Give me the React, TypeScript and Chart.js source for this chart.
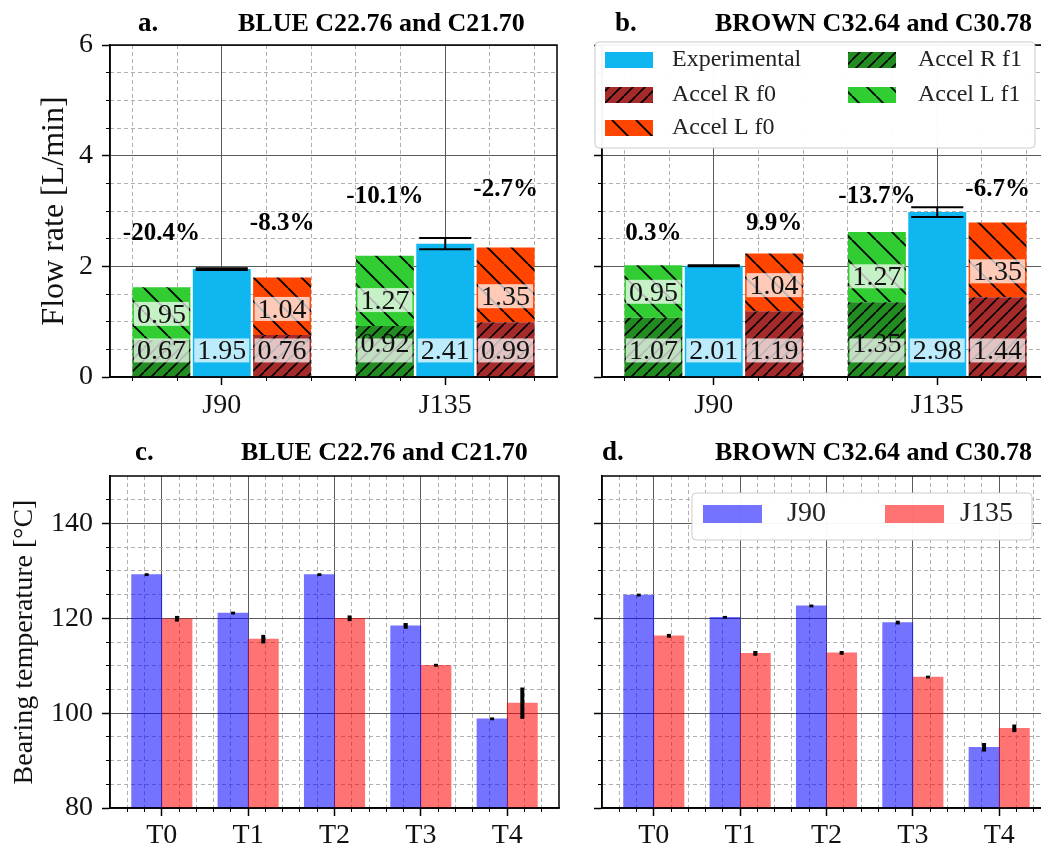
import React, { useEffect, useRef } from 'react';
import { Chart, registerables } from 'chart.js';

Chart.register(...registerables);

const SERIF = "'Liberation Serif', 'Times New Roman', 'DejaVu Serif', serif";
Chart.defaults.font.family = SERIF;
Chart.defaults.color = '#000';

// ---------------- data: flow rate (panels a, b) ----------------
const flowCategories = ['J90', 'J135'];
const flowTickValues = [0, 2, 4, 6];
const flowSeriesNames = ['Experimental', 'Accel R f0', 'Accel L f0', 'Accel R f1', 'Accel L f1'];

const blueExperimental = [1.95, 2.41];
const blueExperimentalErr = [0.015, 0.1];
const blueAccelRf0 = [0.76, 0.99];
const blueAccelLf0 = [1.04, 1.35];
const blueAccelRf1 = [0.67, 0.92];
const blueAccelLf1 = [0.95, 1.27];
const bluePercentLabels = ['-20.4%', '-8.3%', '-10.1%', '-2.7%'];

const brownExperimental = [2.01, 2.98];
const brownExperimentalErr = [0.01, 0.09];
const brownAccelRf0 = [1.19, 1.44];
const brownAccelLf0 = [1.04, 1.35];
const brownAccelRf1 = [1.07, 1.35];
const brownAccelLf1 = [0.95, 1.27];
const brownPercentLabels = ['0.3%', '9.9%', '-13.7%', '-6.7%'];

// value (L/min) at which each percentage label is centred: J90 f1, J90 f0, J135 f1, J135 f0
const percentLabelHeights = [2.6, 2.77, 3.27, 3.38];

// ---------------- data: bearing temperature (panels c, d) ----------------
const tempCategories = ['T0', 'T1', 'T2', 'T3', 'T4'];
const tempTickValues = [80, 100, 120, 140];
const tempSeriesNames = ['J90', 'J135'];

const blueJ90 = [129.2, 121.1, 129.2, 118.4, 98.8];
const blueJ90Err = [0.3, 0.3, 0.3, 0.6, 0.3];
const blueJ135 = [119.9, 115.6, 120.0, 110.1, 102.1];
const blueJ135Err = [0.6, 0.9, 0.6, 0.3, 3.3];

const brownJ90 = [124.9, 120.2, 122.6, 119.1, 92.8];
const brownJ90Err = [0.3, 0.3, 0.3, 0.4, 0.9];
const brownJ135 = [116.3, 112.6, 112.7, 107.6, 96.8];
const brownJ135Err = [0.4, 0.5, 0.4, 0.3, 0.8];

// ---------------- styles ----------------
const C_EXP = 'rgb(16,182,240)';
const C_RF0 = '#a52a2a';
const C_LF0 = '#ff4500';
const C_RF1 = '#228b22';
const C_LF1 = '#32cd32';
const C_J90 = 'rgba(0,0,255,0.55)';
const C_J135 = 'rgba(255,0,0,0.55)';
const MAJOR_GRID = '#5c5c5c';
const MINOR_GRID = '#b0b0b0';

const FLOW_OFFSET = 0.27; // bar offset from category centre (x units)
const TEMP_OFFSET = 0.175;
const LOWER_LABEL_Y = 0.48;
const UPPER_LABEL_GAP = 0.47;

const f = (size: number, weight: string = 'normal') => ({ family: SERIF, size, weight });

function hatch(color: string, dir: 'fwd' | 'back', s: number, lw: number) {
  const c = document.createElement('canvas');
  c.width = s;
  c.height = s;
  const g = c.getContext('2d')!;
  g.fillStyle = color;
  g.fillRect(0, 0, s, s);
  g.strokeStyle = '#000';
  g.lineWidth = lw;
  g.beginPath();
  for (let k = -1; k <= 1; k++) {
    if (dir === 'fwd') {
      g.moveTo(k * s, s);
      g.lineTo(s + k * s, 0);
    } else {
      g.moveTo(k * s, 0);
      g.lineTo(s + k * s, s);
    }
  }
  g.stroke();
  return g.createPattern(c, 'repeat');
}

function minorTicks(min: number, max: number, step: number, majors: number[]) {
  const out: { value: number }[] = [];
  const start = Math.ceil(min / step - 1e-9);
  for (let k = start; k * step <= max + 1e-9; k++) {
    const v = +(k * step).toFixed(6);
    if (v <= min + 1e-9 || v >= max - 1e-9) continue;
    if (majors.some((m) => Math.abs(m - v) < 1e-6)) continue;
    out.push({ value: v });
  }
  return out;
}

function boxedText(ctx: CanvasRenderingContext2D, text: string, cx: number, cy: number, font: string) {
  ctx.font = font;
  const m = ctx.measureText(text);
  const asc = m.actualBoundingBoxAscent;
  const desc = m.actualBoundingBoxDescent;
  const w = m.width;
  const h = asc + desc;
  ctx.fillStyle = 'rgba(255,255,255,0.72)';
  ctx.fillRect(cx - w / 2 - 3, cy - h / 2 - 3, w + 6, h + 6);
  ctx.fillStyle = '#111';
  ctx.textAlign = 'center';
  ctx.textBaseline = 'alphabetic';
  ctx.fillText(text, cx, cy + h / 2 - desc);
}

function drawTitle(ctx: CanvasRenderingContext2D, letter: string, letterX: number, title: string, titleX: number, baseY: number) {
  ctx.fillStyle = '#000';
  ctx.textAlign = 'left';
  ctx.textBaseline = 'alphabetic';
  ctx.font = `bold 27px ${SERIF}`;
  ctx.fillText(letter, letterX, baseY);
  ctx.font = `bold 26px ${SERIF}`;
  ctx.fillText(title, titleX, baseY);
}

function legendFrame(ctx: CanvasRenderingContext2D, x: number, y: number, w: number, h: number) {
  ctx.beginPath();
  (ctx as any).roundRect(x, y, w, h, 4);
  ctx.fillStyle = 'rgba(255,255,255,0.96)';
  ctx.fill();
  ctx.strokeStyle = '#cccccc';
  ctx.lineWidth = 1;
  ctx.stroke();
}

function scaleCommon(min: number, max: number) {
  return { type: 'linear', min, max, offset: false };
}

const majorGrid = { color: MAJOR_GRID, lineWidth: 1, tickLength: 8, tickColor: '#000', tickWidth: 1.5, offset: false };
const minorGrid = { color: MINOR_GRID, lineWidth: 1, tickLength: 4, tickColor: '#000', tickWidth: 1, offset: false };

type FlowPanel = {
  letter: string; title: string; letterX: number; titleX: number;
  exp: number[]; expErr: number[]; rf0: number[]; lf0: number[]; rf1: number[]; lf1: number[];
  pct: string[]; legend: boolean; yLabels: boolean; left: number; top: number;
};

type TempPanel = {
  letter: string; title: string; letterX: number; titleX: number;
  j90: number[]; j90Err: number[]; j135: number[]; j135Err: number[];
  legend: boolean; yLabels: boolean; left: number; top: number;
};

function buildFlowConfig(p: FlowPanel): any {
  const pats = {
    rf0: hatch(C_RF0, 'fwd', 12, 1.6),
    lf0: hatch(C_LF0, 'back', 24, 1.8),
    rf1: hatch(C_RF1, 'fwd', 12, 1.6),
    lf1: hatch(C_LF1, 'back', 24, 1.8),
  };
  const W = FLOW_OFFSET;
  const pts = (vals: number[], off: number) => vals.map((v, i) => ({ x: i + off, y: v }));
  const common = { grouped: false, barPercentage: 0.96, categoryPercentage: 1, borderWidth: 0, xAxisID: 'x', yAxisID: 'y' };
  const colorFor: Record<string, any> = {
    'Experimental': C_EXP, 'Accel R f0': pats.rf0, 'Accel L f0': pats.lf0, 'Accel R f1': pats.rf1, 'Accel L f1': pats.lf1,
  };
  const datasets = [
    { ...common, label: 'Accel R f1', data: pts(p.rf1, -W), backgroundColor: pats.rf1, stack: 'f1' },
    { ...common, label: 'Accel L f1', data: pts(p.lf1, -W), backgroundColor: pats.lf1, stack: 'f1' },
    { ...common, label: 'Experimental', data: pts(p.exp, 0), backgroundColor: C_EXP, stack: 'exp' },
    { ...common, label: 'Accel R f0', data: pts(p.rf0, W), backgroundColor: pats.rf0, stack: 'f0' },
    { ...common, label: 'Accel L f0', data: pts(p.lf0, W), backgroundColor: pats.lf0, stack: 'f0' },
  ];
  const xmin = -0.5, xmax = flowCategories.length - 0.5;
  const ymin = 0, ymax = 6;
  const decor = {
    id: 'flowDecor',
    afterDatasetsDraw(chart: any) {
      const ctx: CanvasRenderingContext2D = chart.ctx;
      const xs = chart.scales.x, ys = chart.scales.y;
      const a = chart.chartArea;
      ctx.save();
      const expMeta = chart.getDatasetMeta(2);
      p.exp.forEach((v, i) => {
        const el = expMeta.data[i];
        const cx = el.x, half = el.width * 0.45;
        const yt = ys.getPixelForValue(v + p.expErr[i]);
        const yb = ys.getPixelForValue(v - p.expErr[i]);
        ctx.strokeStyle = '#000';
        ctx.lineWidth = 2;
        ctx.beginPath();
        ctx.moveTo(cx, yt); ctx.lineTo(cx, yb);
        ctx.moveTo(cx - half, yt); ctx.lineTo(cx + half, yt);
        ctx.moveTo(cx - half, yb); ctx.lineTo(cx + half, yb);
        ctx.stroke();
      });
      const font = `28px ${SERIF}`;
      flowCategories.forEach((_, i) => {
        const xl = xs.getPixelForValue(i - W), xc = xs.getPixelForValue(i), xr = xs.getPixelForValue(i + W);
        boxedText(ctx, p.rf1[i].toFixed(2), xl, ys.getPixelForValue(LOWER_LABEL_Y), font);
        boxedText(ctx, p.lf1[i].toFixed(2), xl, ys.getPixelForValue(p.rf1[i] + UPPER_LABEL_GAP), font);
        boxedText(ctx, p.exp[i].toFixed(2), xc, ys.getPixelForValue(LOWER_LABEL_Y), font);
        boxedText(ctx, p.rf0[i].toFixed(2), xr, ys.getPixelForValue(LOWER_LABEL_Y), font);
        boxedText(ctx, p.lf0[i].toFixed(2), xr, ys.getPixelForValue(p.rf0[i] + UPPER_LABEL_GAP), font);
        ctx.font = `bold 25px ${SERIF}`;
        ctx.fillStyle = '#000';
        ctx.textAlign = 'center';
        ctx.textBaseline = 'middle';
        ctx.fillText(p.pct[2 * i], xl, ys.getPixelForValue(percentLabelHeights[2 * i]));
        ctx.fillText(p.pct[2 * i + 1], xr, ys.getPixelForValue(percentLabelHeights[2 * i + 1]));
      });
      ctx.strokeStyle = '#000';
      ctx.lineWidth = 1.5;
      ctx.strokeRect(a.left, a.top, a.right - a.left, a.bottom - a.top);
      ctx.restore();
    },
    afterDraw(chart: any) {
      const ctx: CanvasRenderingContext2D = chart.ctx;
      const a = chart.chartArea;
      ctx.save();
      drawTitle(ctx, p.letter, p.letterX, p.title, p.titleX, 31);
      if (p.legend) {
        legendFrame(ctx, a.left - 7, a.top - 3, 440, 106);
        const rows = [15, 50, 83];
        const cols = [{ sw: 3, tx: 70 }, { sw: 246, tx: 316 }];
        flowSeriesNames.forEach((name, k) => {
          const col = cols[Math.floor(k / 3)];
          const ry = a.top + rows[k % 3];
          ctx.fillStyle = colorFor[name];
          ctx.fillRect(a.left + col.sw, ry - 8, 48, 16);
          ctx.fillStyle = '#222';
          ctx.font = `24px ${SERIF}`;
          ctx.textAlign = 'left';
          ctx.textBaseline = 'middle';
          ctx.fillText(name, a.left + col.tx, ry);
        });
      }
      ctx.restore();
    },
  };
  return {
    type: 'bar',
    data: { datasets },
    plugins: [decor],
    options: {
      animation: false,
      responsive: false,
      devicePixelRatio: 1,
      layout: { padding: { top: 45, right: 23, left: 0, bottom: 0 } },
      plugins: { legend: { display: false }, tooltip: { enabled: false }, title: { display: false } },
      scales: {
        x: {
          ...scaleCommon(xmin, xmax), position: 'bottom', weight: 1,
          afterBuildTicks: (s: any) => { s.ticks = flowCategories.map((_, i) => ({ value: i })); },
          ticks: { callback: (v: any) => flowCategories[v] ?? '', font: f(28), color: '#111', padding: 4, maxRotation: 0, autoSkip: false },
          grid: majorGrid,
          border: { color: '#000', width: 1.5 },
          afterFit: (s: any) => { s.height = 48; },
        },
        xMinor: {
          ...scaleCommon(xmin, xmax), position: 'bottom', weight: 0,
          afterBuildTicks: (s: any) => { s.ticks = minorTicks(xmin, xmax, 0.2, flowCategories.map((_, i) => i)); },
          ticks: { display: false },
          grid: minorGrid,
          border: { display: false, dash: [4, 3] },
          afterFit: (s: any) => { s.height = 0; },
        },
        y: {
          ...scaleCommon(ymin, ymax), position: 'left', stacked: true, weight: 1,
          afterBuildTicks: (s: any) => { s.ticks = flowTickValues.map((v) => ({ value: v })); },
          ticks: { display: p.yLabels, font: f(28), color: '#111', padding: 9 },
          grid: majorGrid,
          border: { color: '#000', width: 1.5 },
          title: { display: p.yLabels, text: 'Flow rate [L/min]', font: f(32), color: '#111', padding: { top: 35, bottom: 0 } },
          afterFit: (s: any) => { s.width = 110; },
        },
        yMinor: {
          ...scaleCommon(ymin, ymax), position: 'left', weight: 0,
          afterBuildTicks: (s: any) => { s.ticks = minorTicks(ymin, ymax, 0.5, flowTickValues); },
          ticks: { display: false },
          grid: minorGrid,
          border: { display: false, dash: [4, 3] },
          afterFit: (s: any) => { s.width = 0; },
        },
      },
    },
  };
}

function buildTempConfig(p: TempPanel): any {
  const H = TEMP_OFFSET;
  const common = { grouped: false, barPercentage: 1, categoryPercentage: 1, borderWidth: 0, xAxisID: 'x', yAxisID: 'y' };
  const datasets = [
    { ...common, label: tempSeriesNames[0], data: p.j90.map((v, i) => ({ x: i - H, y: v })), backgroundColor: C_J90 },
    { ...common, label: tempSeriesNames[1], data: p.j135.map((v, i) => ({ x: i + H, y: v })), backgroundColor: C_J135 },
  ];
  const xmin = -0.6, xmax = tempCategories.length - 0.4;
  const ymin = 80, ymax = 150;
  const decor = {
    id: 'tempDecor',
    afterDatasetsDraw(chart: any) {
      const ctx: CanvasRenderingContext2D = chart.ctx;
      const ys = chart.scales.y;
      const a = chart.chartArea;
      ctx.save();
      [p.j90, p.j135].forEach((vals, d) => {
        const errs = d === 0 ? p.j90Err : p.j135Err;
        const meta = chart.getDatasetMeta(d);
        vals.forEach((v, i) => {
          const el = meta.data[i];
          ctx.strokeStyle = '#000';
          ctx.lineWidth = 4;
          ctx.beginPath();
          ctx.moveTo(el.x, ys.getPixelForValue(v + errs[i]));
          ctx.lineTo(el.x, ys.getPixelForValue(v - errs[i]));
          ctx.stroke();
        });
      });
      ctx.strokeStyle = '#000';
      ctx.lineWidth = 1.5;
      ctx.strokeRect(a.left, a.top, a.right - a.left, a.bottom - a.top);
      ctx.restore();
    },
    afterDraw(chart: any) {
      const ctx: CanvasRenderingContext2D = chart.ctx;
      const a = chart.chartArea;
      ctx.save();
      drawTitle(ctx, p.letter, p.letterX, p.title, p.titleX, 30);
      if (p.legend) {
        legendFrame(ctx, a.left + 90, a.top + 17, 340, 47);
        const items = [{ sw: 101, tx: 185 }, { sw: 283, tx: 358 }];
        const colors = [C_J90, C_J135];
        tempSeriesNames.forEach((name, k) => {
          const ry = a.top + 38;
          ctx.fillStyle = colors[k];
          ctx.fillRect(a.left + items[k].sw, ry - 9, 59, 18);
          ctx.fillStyle = '#222';
          ctx.font = `28px ${SERIF}`;
          ctx.textAlign = 'left';
          ctx.textBaseline = 'middle';
          ctx.fillText(name, a.left + items[k].tx, ry);
        });
      }
      ctx.restore();
    },
  };
  return {
    type: 'bar',
    data: { datasets },
    plugins: [decor],
    options: {
      animation: false,
      responsive: false,
      devicePixelRatio: 1,
      layout: { padding: { top: 46, right: 21, left: 0, bottom: 0 } },
      plugins: { legend: { display: false }, tooltip: { enabled: false }, title: { display: false } },
      scales: {
        x: {
          ...scaleCommon(xmin, xmax), position: 'bottom', weight: 1,
          afterBuildTicks: (s: any) => { s.ticks = tempCategories.map((_, i) => ({ value: i })); },
          ticks: { callback: (v: any) => tempCategories[v] ?? '', font: f(28), color: '#111', padding: 3, maxRotation: 0, autoSkip: false },
          grid: majorGrid,
          border: { color: '#000', width: 1.5 },
          afterFit: (s: any) => { s.height = 42; },
        },
        xMinor: {
          ...scaleCommon(xmin, xmax), position: 'bottom', weight: 0,
          afterBuildTicks: (s: any) => { s.ticks = minorTicks(xmin, xmax, 0.2, tempCategories.map((_, i) => i)); },
          ticks: { display: false },
          grid: minorGrid,
          border: { display: false, dash: [4, 3] },
          afterFit: (s: any) => { s.height = 0; },
        },
        y: {
          ...scaleCommon(ymin, ymax), position: 'left', weight: 1,
          afterBuildTicks: (s: any) => { s.ticks = tempTickValues.map((v) => ({ value: v })); },
          ticks: { display: p.yLabels, font: f(28), color: '#111', padding: 9 },
          grid: majorGrid,
          border: { color: '#000', width: 1.5 },
          title: { display: p.yLabels, text: 'Bearing temperature [°C]', font: f(28), color: '#111', padding: { top: 8, bottom: 0 } },
          afterFit: (s: any) => { s.width = 110; },
        },
        yMinor: {
          ...scaleCommon(ymin, ymax), position: 'left', weight: 0,
          afterBuildTicks: (s: any) => { s.ticks = minorTicks(ymin, ymax, 5, tempTickValues); },
          ticks: { display: false },
          grid: minorGrid,
          border: { display: false, dash: [4, 3] },
          afterFit: (s: any) => { s.width = 0; },
        },
      },
    },
  };
}

const panelA: FlowPanel = {
  letter: 'a.', title: 'BLUE C22.76 and C21.70', letterX: 138, titleX: 238,
  exp: blueExperimental, expErr: blueExperimentalErr, rf0: blueAccelRf0, lf0: blueAccelLf0, rf1: blueAccelRf1, lf1: blueAccelLf1,
  pct: bluePercentLabels, legend: false, yLabels: true, left: 0, top: 0,
};
const panelB: FlowPanel = {
  letter: 'b.', title: 'BROWN C32.64 and C30.78', letterX: 123, titleX: 223,
  exp: brownExperimental, expErr: brownExperimentalErr, rf0: brownAccelRf0, lf0: brownAccelLf0, rf1: brownAccelRf1, lf1: brownAccelLf1,
  pct: brownPercentLabels, legend: true, yLabels: false, left: 492, top: 0,
};
const panelC: TempPanel = {
  letter: 'c.', title: 'BLUE C22.76 and C21.70', letterX: 135, titleX: 241,
  j90: blueJ90, j90Err: blueJ90Err, j135: blueJ135, j135Err: blueJ135Err, legend: false, yLabels: true, left: 0, top: 430,
};
const panelD: TempPanel = {
  letter: 'd.', title: 'BROWN C32.64 and C30.78', letterX: 110, titleX: 223,
  j90: brownJ90, j90Err: brownJ90Err, j135: brownJ135, j135Err: brownJ135Err, legend: true, yLabels: false, left: 492, top: 430,
};

function PanelCanvas({ build, left, top, width, height }: { build: () => any; left: number; top: number; width: number; height: number }) {
  const ref = useRef<HTMLCanvasElement>(null);
  useEffect(() => {
    const chart = new Chart(ref.current as HTMLCanvasElement, build());
    return () => chart.destroy();
  }, []);
  return (
    <canvas
      ref={ref}
      width={width}
      height={height}
      style={{ position: 'absolute', left, top, width, height }}
    />
  );
}

export default function App() {
  return (
    <div style={{ position: 'fixed', left: 0, top: 0, width: 1041, height: 850, overflow: 'hidden', background: '#fff' }}>
      <PanelCanvas build={() => buildFlowConfig(panelA)} left={panelA.left} top={panelA.top} width={580} height={425} />
      <PanelCanvas build={() => buildFlowConfig(panelB)} left={panelB.left} top={panelB.top} width={580} height={425} />
      <PanelCanvas build={() => buildTempConfig(panelC)} left={panelC.left} top={panelC.top} width={580} height={420} />
      <PanelCanvas build={() => buildTempConfig(panelD)} left={panelD.left} top={panelD.top} width={580} height={420} />
    </div>
  );
}
